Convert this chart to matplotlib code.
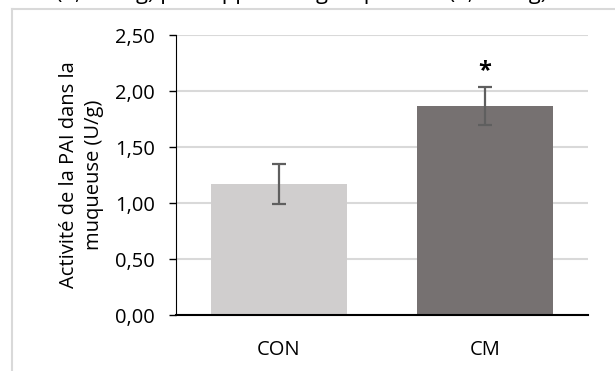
import matplotlib
matplotlib.use("Agg")
import matplotlib.pyplot as plt
from matplotlib.lines import Line2D

categories = ["CON", "CM"]
values = [1.17, 1.87]
errors = [0.18, 0.17]
colors = ["#d0cece", "#767171"]
yticks = [0.0, 0.5, 1.0, 1.5, 2.0, 2.5]
ytick_labels = ["0,00", "0,50", "1,00", "1,50", "2,00", "2,50"]
ylabel = "Activité de la PAI dans la\nmuqueuse (U/g)"
top_prefix = "dans le groupe CM "
top_main = "(1,87 U/g) par rapport au groupe CON (1,17 U/g)"

plt.rcParams['font.family'] = ['Open Sans', 'DejaVu Sans']

W, H = 615, 371
FS = 14.5
fig = plt.figure(figsize=(W / 100, H / 100), dpi=100)
fig.patch.set_facecolor("white")

# outer chart frame (partially visible)
fig.add_artist(Line2D([12 / W, 12 / W], [0, 1 - 9 / H], transform=fig.transFigure,
                      color="#d9d9d9", lw=1.5))
fig.add_artist(Line2D([12 / W, 1], [1 - 9 / H, 1 - 9 / H], transform=fig.transFigure,
                      color="#d9d9d9", lw=1.5))

# clipped text at the very top: fit main part to ~490 px width
renderer = fig.canvas.get_renderer()
probe = fig.text(0, 0, top_main, fontsize=FS)
w = probe.get_window_extent(renderer).width
probe.remove()
top_fs = FS * 490.0 / w
fig.text(547 / W, 1 + 7 / H, top_prefix + top_main, fontsize=top_fs, ha="right",
         va="center", transform=fig.transFigure)

ax = fig.add_axes([176 / W, (H - 315) / H, (588 - 176) / W, (315 - 35) / H])
x = list(range(len(categories)))
ax.bar(x, values, width=0.665, color=colors, zorder=2)
ax.errorbar(x, values, yerr=errors, fmt="none", ecolor="#5f5f5f", elinewidth=1.6,
            capsize=5, capthick=1.6, zorder=3)
ax.text(x[1], values[1] + errors[1] + 0.14, "*", ha="center", va="center",
        fontsize=17, fontweight="bold")

ax.set_xlim(-0.5, 1.5)
ax.set_ylim(0, 2.5)
ax.set_yticks(yticks)
ax.set_yticklabels(ytick_labels, fontsize=FS)
ax.set_xticks(x)
ax.set_xticklabels(categories, fontsize=FS)
ax.tick_params(axis="x", length=0, pad=18)
ax.tick_params(axis="y", length=5, width=1, direction="out", pad=10)
ax.yaxis.grid(True, color="#d9d9d9", lw=1.5, zorder=0)
ax.set_axisbelow(True)
for s in ["top", "right"]:
    ax.spines[s].set_visible(False)
ax.spines["left"].set_color("black")
ax.spines["bottom"].set_color("black")
ax.spines["bottom"].set_linewidth(1.5)
ax.set_ylabel(ylabel, fontsize=FS, labelpad=8, linespacing=1.35)

fig.savefig("out.png", dpi=100)
